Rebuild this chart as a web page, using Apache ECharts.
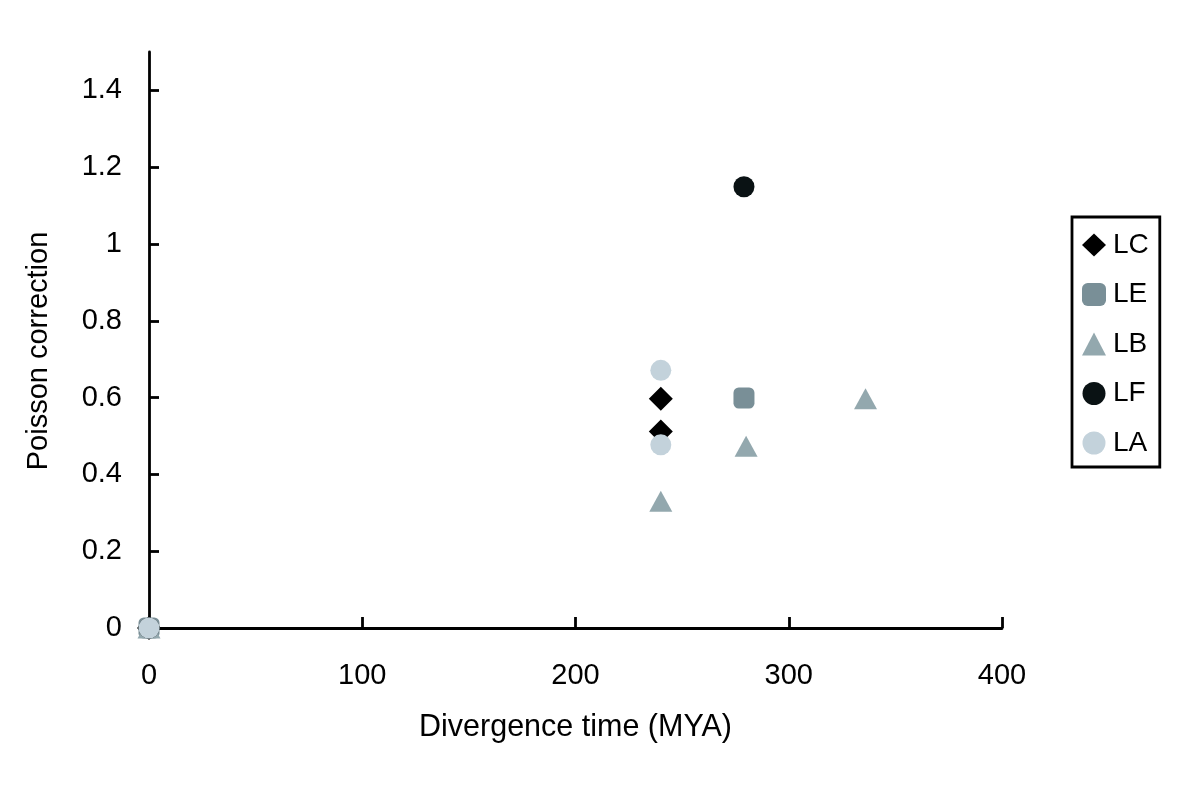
<!DOCTYPE html>
<html>
<head>
<meta charset="utf-8">
<script src="https://cdn.jsdelivr.net/npm/echarts@6/dist/echarts.min.js"></script>
<style>
  html, body { margin: 0; padding: 0; background: #fff; }
  #main { width: 1200px; height: 788px; }
</style>
</head>
<body>
<div id="main"></div>
<script>
// values
var lcX = [0, 240, 240];
var lcY = [0, 0.597, 0.512];
var leX = [0, 279];
var leY = [0, 0.599];
var lbX = [0, 240, 280, 336];
var lbY = [0, 0.330, 0.473, 0.597];
var lfX = [0, 279];
var lfY = [0, 1.149];
var laX = [0, 240, 240];
var laY = [0, 0.671, 0.477];

var xTicks = [0, 100, 200, 300, 400];
var yTicks = [0, 0.2, 0.4, 0.6, 0.8, 1, 1.2, 1.4];

function pairs(xs, ys) {
    var out = [];
    for (var i = 0; i < xs.length; i++) {
        out.push([xs[i], ys[i]]);
    }
    return out;
}

var font = 'Liberation Sans, Arial, sans-serif';

function mk(name, xs, ys, symbol, size, color) {
    return {
        name: name,
        type: 'scatter',
        data: pairs(xs, ys),
        symbol: symbol,
        symbolSize: size,
        clip: false,
        itemStyle: { color: color, opacity: 1 },
        emphasis: { disabled: true }
    };
}

var myChart = echarts.init(document.getElementById('main'));
var option = {
    animation: false,
    backgroundColor: '#fff',
    textStyle: { fontFamily: font },
    grid: { left: 149, right: 198, top: 52, bottom: 160 },
    xAxis: {
        type: 'value',
        min: 0, max: 400, interval: 100,
        name: 'Divergence time (MYA)',
        nameLocation: 'middle',
        nameGap: 84,
        nameTextStyle: { fontSize: 30.5, color: '#000', fontFamily: font },
        axisLine: { lineStyle: { color: '#000', width: 2.8 } },
        axisTick: { inside: true, length: 11, lineStyle: { color: '#000', width: 2.8 }, customValues: xTicks },
        axisLabel: { fontSize: 29, color: '#000', margin: 33, fontFamily: font, customValues: xTicks },
        splitLine: { show: false }
    },
    yAxis: {
        type: 'value',
        min: 0, max: 1.5, interval: 0.2,
        name: 'Poisson correction',
        nameLocation: 'middle',
        nameGap: 96,
        nameTextStyle: { fontSize: 29, color: '#000', fontFamily: font, padding: [0, 22, 0, 0] },
        axisLine: { lineStyle: { color: '#000', width: 2.8 } },
        axisTick: { inside: true, length: 10, lineStyle: { color: '#000', width: 2.8 }, customValues: yTicks },
        axisLabel: { fontSize: 29, color: '#000', margin: 27, fontFamily: font, customValues: yTicks },
        splitLine: { show: false }
    },
    legend: {
        orient: 'vertical',
        left: 1072,
        top: 217,
        width: 90,
        padding: [14, 11, 10, 10],
        borderColor: '#000',
        borderWidth: 2.8,
        borderRadius: 0,
        itemWidth: 24,
        itemHeight: 23,
        itemGap: 21.5,
        textStyle: { fontSize: 28, color: '#000', fontFamily: font, padding: [0, 0, 0, 2] },
        data: ['LC', 'LE', 'LB', 'LF', 'LA']
    },
    series: [
        mk('LC', lcX, lcY, 'diamond', [24, 24], '#000000'),
        mk('LE', leX, leY, 'roundRect', [21, 21], '#798f97'),
        mk('LB', lbX, lbY, 'triangle', [23, 21], '#93a8ae'),
        mk('LF', lfX, lfY, 'circle', 21, '#0a1214'),
        mk('LA', laX, laY, 'circle', 21, '#c3d2db')
    ]
};
myChart.setOption(option);
</script>
</body>
</html>
